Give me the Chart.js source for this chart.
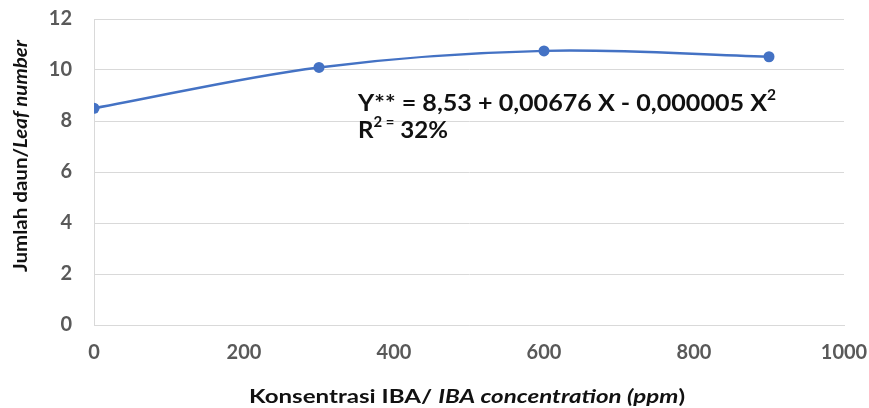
<!DOCTYPE html>
<html lang="id">
<head>
    <meta charset="UTF-8">
    <script src="https://cdn.jsdelivr.net/npm/chart.js"></script>
    <title>Jumlah daun</title>
    <style>
        html, body { margin: 0; padding: 0; background: #fff; }
        .wrap { width: 869px; height: 408px; }
    </style>
</head>
<body>
    <div class="wrap"><canvas id="chart" width="869" height="408"></canvas></div>

    <script>
        // Data dari grafik
        const concentrations = [0, 300, 600, 900];
        const leafNumbers = [8.5, 10.1, 10.75, 10.52];
        const xTicks = [0, 200, 400, 600, 800, 1000];
        const yTicks = [0, 2, 4, 6, 8, 10, 12];

        const fontName = 'Lato, "Open Sans", sans-serif';

        // Menggambar potongan teks (normal / miring / pangkat)
        function drawRuns(ctx, runs, size, x, y, targetWidth) {
            const parts = runs.map(r => {
                const s = r.sup ? size * 0.62 : size;
                const f = (r.italic ? 'italic ' : '') + 'bold ' + s + 'px ' + fontName;
                ctx.font = f;
                return { text: r.text, font: f, w: ctx.measureText(r.text).width, sup: r.sup };
            });
            const total = parts.reduce((a, p) => a + p.w, 0);
            const k = targetWidth ? targetWidth / total : 1;
            ctx.save();
            ctx.translate(x, y);
            ctx.scale(k, 1);
            let cx = 0;
            parts.forEach(p => {
                ctx.font = p.font;
                ctx.fillText(p.text, cx, p.sup ? -size * 0.36 : 0);
                cx += p.w;
            });
            ctx.restore();
        }

        const textPlugin = {
            id: 'texts',
            afterDraw(chart) {
                const ctx = chart.ctx;
                ctx.save();
                ctx.fillStyle = '#111';
                ctx.textBaseline = 'middle';
                ctx.textAlign = 'left';

                // judul sumbu Y (diputar)
                ctx.save();
                ctx.translate(21, 272);
                ctx.rotate(-Math.PI / 2);
                drawRuns(ctx, [
                    { text: 'Jumlah daun/' },
                    { text: 'Leaf number', italic: true }
                ], 19, 0, 0, 232);
                ctx.restore();

                // judul sumbu X
                drawRuns(ctx, [
                    { text: 'Konsentrasi IBA/ ' },
                    { text: 'IBA concentration (ppm', italic: true },
                    { text: ')' }
                ], 19, 249, 397, 436);

                // persamaan regresi
                drawRuns(ctx, [
                    { text: 'Y** = 8,53 + 0,00676 X - 0,000005 X' },
                    { text: '2', sup: true }
                ], 23, 358, 104, 418);
                drawRuns(ctx, [
                    { text: 'R' },
                    { text: '2 =', sup: true },
                    { text: ' 32%' }
                ], 23, 358, 131, 90);
                ctx.restore();
            }
        };

        const ctx = document.getElementById('chart').getContext('2d');
        new Chart(ctx, {
            type: 'line',
            data: {
                datasets: [{
                    data: concentrations.map((c, i) => ({ x: c, y: leafNumbers[i] })),
                    borderColor: '#4472C4',
                    backgroundColor: '#4472C4',
                    borderWidth: 2.5,
                    pointRadius: 5.5,
                    pointBorderWidth: 0,
                    tension: 0.35,
                    fill: false
                }]
            },
            options: {
                responsive: false,
                animation: false,
                layout: { padding: { left: 0, right: 25, top: 19, bottom: 0 } },
                plugins: { legend: { display: false }, tooltip: { enabled: false } },
                scales: {
                    x: {
                        type: 'linear',
                        min: 0, max: 1000,
                        afterBuildTicks: s => { s.ticks = xTicks.map(v => ({ value: v })); },
                        afterFit: s => {
                            s.height = 83;
                            s.paddingLeft = 0; s.paddingRight = 0;
                        },
                        grid: { display: false, drawTicks: false },
                        border: { display: true, color: '#d9d9d9' },
                        ticks: {
                            padding: 16,
                            color: '#595959',
                            font: { family: fontName, size: 20, weight: 'bold' },
                            maxRotation: 0,
                            callback: v => String(v)
                        }
                    },
                    y: {
                        min: 0, max: 12,
                        afterBuildTicks: s => { s.ticks = yTicks.map(v => ({ value: v })); },
                        afterFit: s => {
                            s.width = 94;
                            s.paddingTop = 0; s.paddingBottom = 0;
                        },
                        grid: { color: '#d9d9d9', lineWidth: 1, drawTicks: false },
                        border: { display: true, color: '#d9d9d9' },
                        ticks: {
                            padding: 22,
                            color: '#595959',
                            font: { family: fontName, size: 20, weight: 'bold' },
                            callback: v => String(v)
                        }
                    }
                }
            },
            plugins: [textPlugin]
        });
    </script>
</body>
</html>
